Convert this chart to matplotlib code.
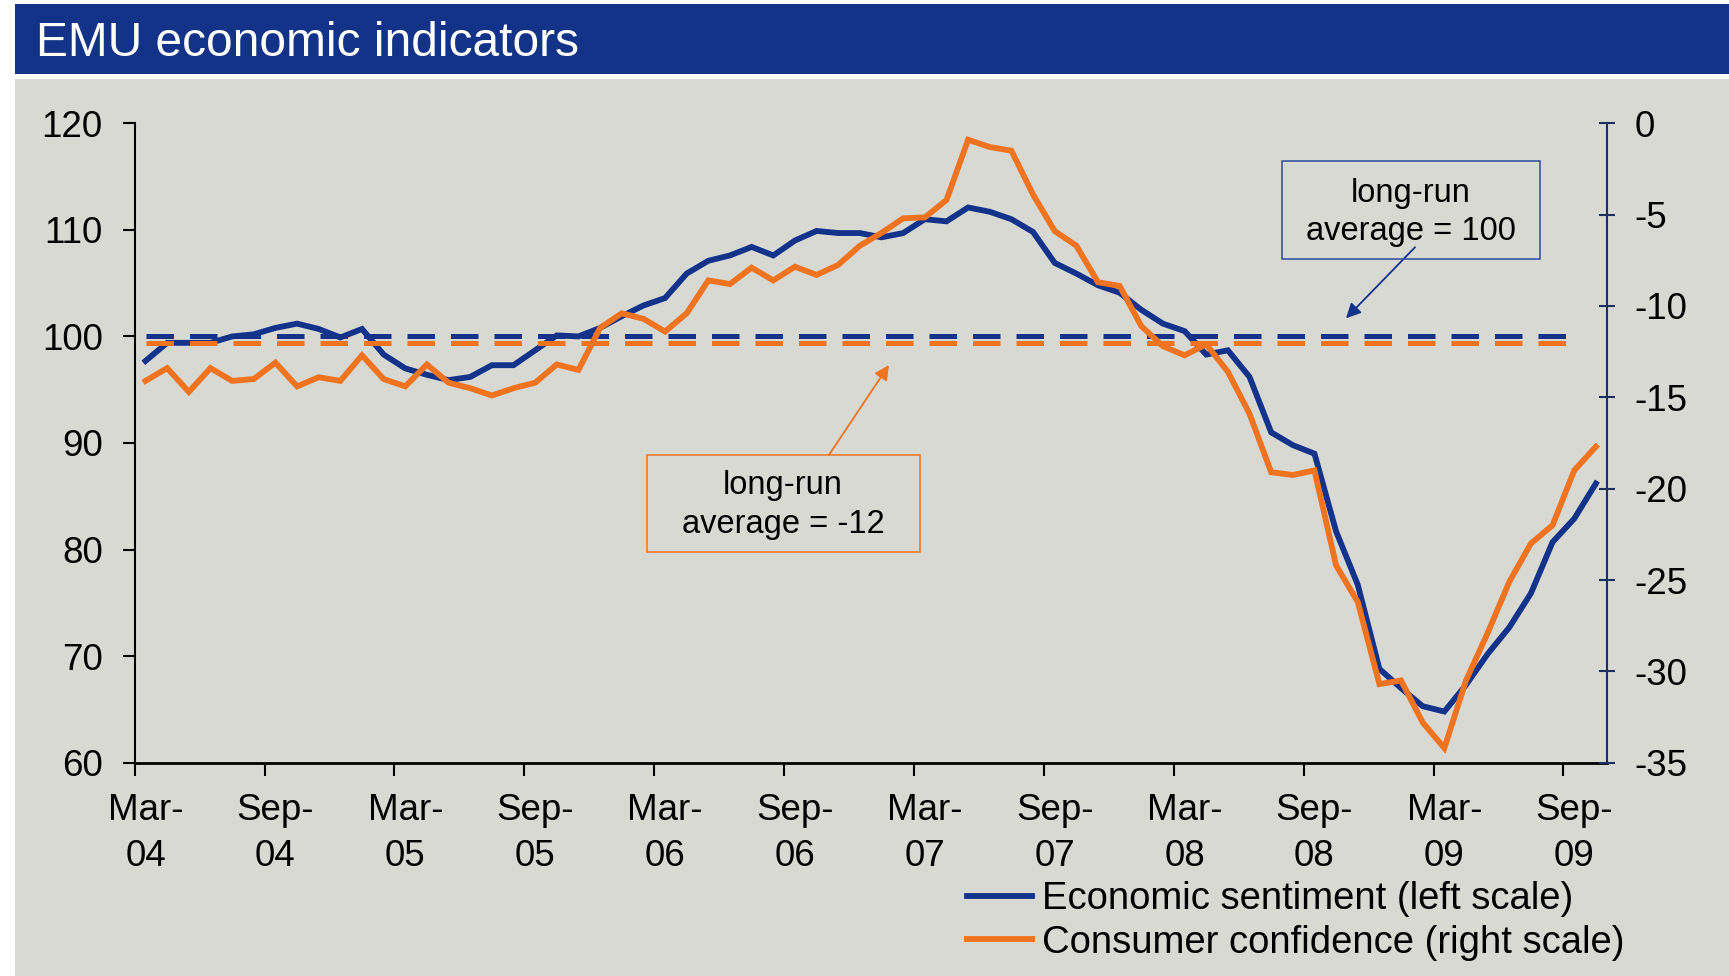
import matplotlib
matplotlib.use("Agg")
import matplotlib.pyplot as plt
import numpy as np
from matplotlib.patches import Rectangle
from matplotlib.lines import Line2D

plt.rcParams['font.family'] = ['Liberation Sans', 'DejaVu Sans']
plt.rcParams['axes.unicode_minus'] = False

# monthly data, Mar-04 .. Oct-09
sentiment = [97.7, 99.4, 99.4, 99.4, 100.0, 100.2, 100.8, 101.2, 100.7, 99.9, 100.7, 98.3,
             97.0, 96.4, 95.9, 96.2, 97.3, 97.3, 98.7, 100.1, 100.0, 100.8, 101.9, 102.9,
             103.6, 105.9, 107.1, 107.6, 108.4, 107.6, 109.0, 109.9, 109.7, 109.7, 109.3, 109.7,
             111.0, 110.8, 112.1, 111.7, 111.0, 109.8, 106.9, 105.9, 104.8, 104.1, 102.5, 101.2,
             100.5, 98.3, 98.7, 96.2, 91.0, 89.8, 89.0, 81.7, 76.7, 68.8, 67.0, 65.3,
             64.8, 67.3, 70.2, 72.7, 75.9, 80.7, 82.9, 86.2]
confidence = [-14.1, -13.4, -14.7, -13.4, -14.1, -14.0, -13.1, -14.4, -13.9, -14.1, -12.7, -14.0,
              -14.4, -13.2, -14.2, -14.5, -14.9, -14.5, -14.2, -13.2, -13.5, -11.2, -10.4, -10.7,
              -11.4, -10.4, -8.6, -8.8, -7.9, -8.6, -7.85, -8.3, -7.75, -6.7, -6.0, -5.2,
              -5.15, -4.2, -0.9, -1.3, -1.5, -3.9, -5.9, -6.7, -8.7, -8.9, -11.1, -12.2,
              -12.7, -12.1, -13.6, -15.9, -19.1, -19.25, -19.0, -24.2, -26.2, -30.7, -30.5, -32.8,
              -34.2, -30.5, -27.9, -25.1, -23.0, -22.0, -19.0, -17.7]
sentiment_avg = 100
confidence_avg = -12
avg_months = 67  # average lines run Mar-04 .. Sep-09
tick_labels = ["Mar-\n04", "Sep-\n04", "Mar-\n05", "Sep-\n05", "Mar-\n06", "Sep-\n06",
               "Mar-\n07", "Sep-\n07", "Mar-\n08", "Sep-\n08", "Mar-\n09", "Sep-\n09"]

BLUE = '#13328a'
ORANGE = '#f07320'
GREY = '#d9d9d4'
NAVY = '#1c2f5e'

W, H = 1729, 976
fig = plt.figure(figsize=(W / 100, H / 100), dpi=100)
fig.patch.set_facecolor('white')

# panel + title bar
fig.patches.append(Rectangle((15.4 / W, 0), 1, 1 - 79 / H, transform=fig.transFigure,
                             facecolor=GREY, edgecolor='none', zorder=-10))
fig.patches.append(Rectangle((15.4 / W, 1 - 74 / H), 1, (74 - 4.4) / H, transform=fig.transFigure,
                             facecolor='#123387', edgecolor='none', zorder=-10))
fig.text(36 / W, 1 - 44 / H, "EMU economic indicators", color='white', fontsize=34.5,
         va='center', ha='left')

left, right, top, bottom = 134.7, 1606.7, 123.3, 762.7
ax = fig.add_axes([left / W, 1 - bottom / H, (right - left) / W, (bottom - top) / H])
ax.set_facecolor('none')
ax2 = ax.twinx()
ax2.set_facecolor('none')

x = np.arange(len(sentiment))
xa = np.arange(avg_months)

ax.plot(x, sentiment, color=BLUE, lw=4.2, solid_joinstyle='miter', zorder=3)
ax.plot(xa, [sentiment_avg] * avg_months, color=BLUE, lw=3.6, dashes=(5.5, 3.2), zorder=2)
ax2.plot(x, confidence, color=ORANGE, lw=4.2, solid_joinstyle='miter', zorder=3)
ax2.plot(xa, [confidence_avg] * avg_months, color=ORANGE, lw=3.6, dashes=(5.5, 3.2), zorder=2)

ax.set_xlim(-0.5, len(sentiment) - 0.5)
ax.set_ylim(60, 120)
ax.set_yticks(np.arange(60, 121, 10))
ax2.set_ylim(-35, 0)
ax2.set_yticks(np.arange(-35, 1, 5))

ax.set_xticks(np.arange(-0.5, len(sentiment) - 1, 6))
ax.set_xticklabels([])
ax.set_xticks(np.arange(0, len(sentiment), 6), minor=True)
ax.set_xticklabels(tick_labels, minor=True, linespacing=1.38)
ax.tick_params(axis='x', which='major', direction='out', length=9, width=1.5, color='black')
ax.tick_params(axis='x', which='minor', length=0, pad=22, labelsize=26.5)
ax.tick_params(axis='y', direction='out', length=9, width=1.5, pad=14, labelsize=26.5)
ax2.tick_params(axis='y', direction='inout', length=12, width=1.5, color=NAVY, pad=14,
                labelsize=26.5)

for s in ['top', 'right']:
    ax.spines[s].set_visible(False)
for s in ['top', 'left', 'bottom']:
    ax2.spines[s].set_visible(False)
ax.spines['left'].set_linewidth(1.5)
ax.spines['bottom'].set_linewidth(2)
ax2.spines['right'].set_linewidth(1.5)
ax2.spines['right'].set_color(NAVY)

# annotation boxes
def box(x0, y0, x1, y1, ec):
    ax2.add_patch(Rectangle((x0, y0), x1 - x0, y1 - y0, transform=ax2.transAxes,
                            facecolor='none', edgecolor=ec, lw=1.1, zorder=5, clip_on=False))

box(0.7794, 0.7878, 0.9547, 0.941, '#2b4a9e')
ax2.text(0.867, 0.861, "long-run\naverage = 100", transform=ax2.transAxes, ha='center',
         va='center', fontsize=23.5, linespacing=1.3, zorder=6)
ax2.annotate("", xy=(0.8229, 0.6951), xytext=(0.8698, 0.8062), xycoords='axes fraction',
             arrowprops=dict(arrowstyle='-|>', color=BLUE, lw=1.3, mutation_scale=22,
                             shrinkA=0, shrinkB=0))

box(0.348, 0.3295, 0.5335, 0.4812, ORANGE)
ax2.text(0.4405, 0.403, "long-run\naverage = -12", transform=ax2.transAxes, ha='center',
         va='center', fontsize=23.5, linespacing=1.3, zorder=6)
ax2.annotate("", xy=(0.5124, 0.622), xytext=(0.4716, 0.4812), xycoords='axes fraction',
             arrowprops=dict(arrowstyle='-|>', color=ORANGE, lw=1.3, mutation_scale=22,
                             shrinkA=0, shrinkB=0))

handles = [Line2D([], [], color=BLUE, lw=4.2),
           Line2D([], [], color=ORANGE, lw=4.2)]
fig.legend(handles, ["Economic sentiment (left scale)", "Consumer confidence (right scale)"],
           loc='upper left', bbox_to_anchor=(967 / W, 1 - 881 / H), frameon=False,
           fontsize=27.5, handlelength=1.7, handletextpad=0.26, labelspacing=0.2,
           borderpad=0, borderaxespad=0)

fig.savefig("out.png", dpi=100, facecolor=fig.get_facecolor())
